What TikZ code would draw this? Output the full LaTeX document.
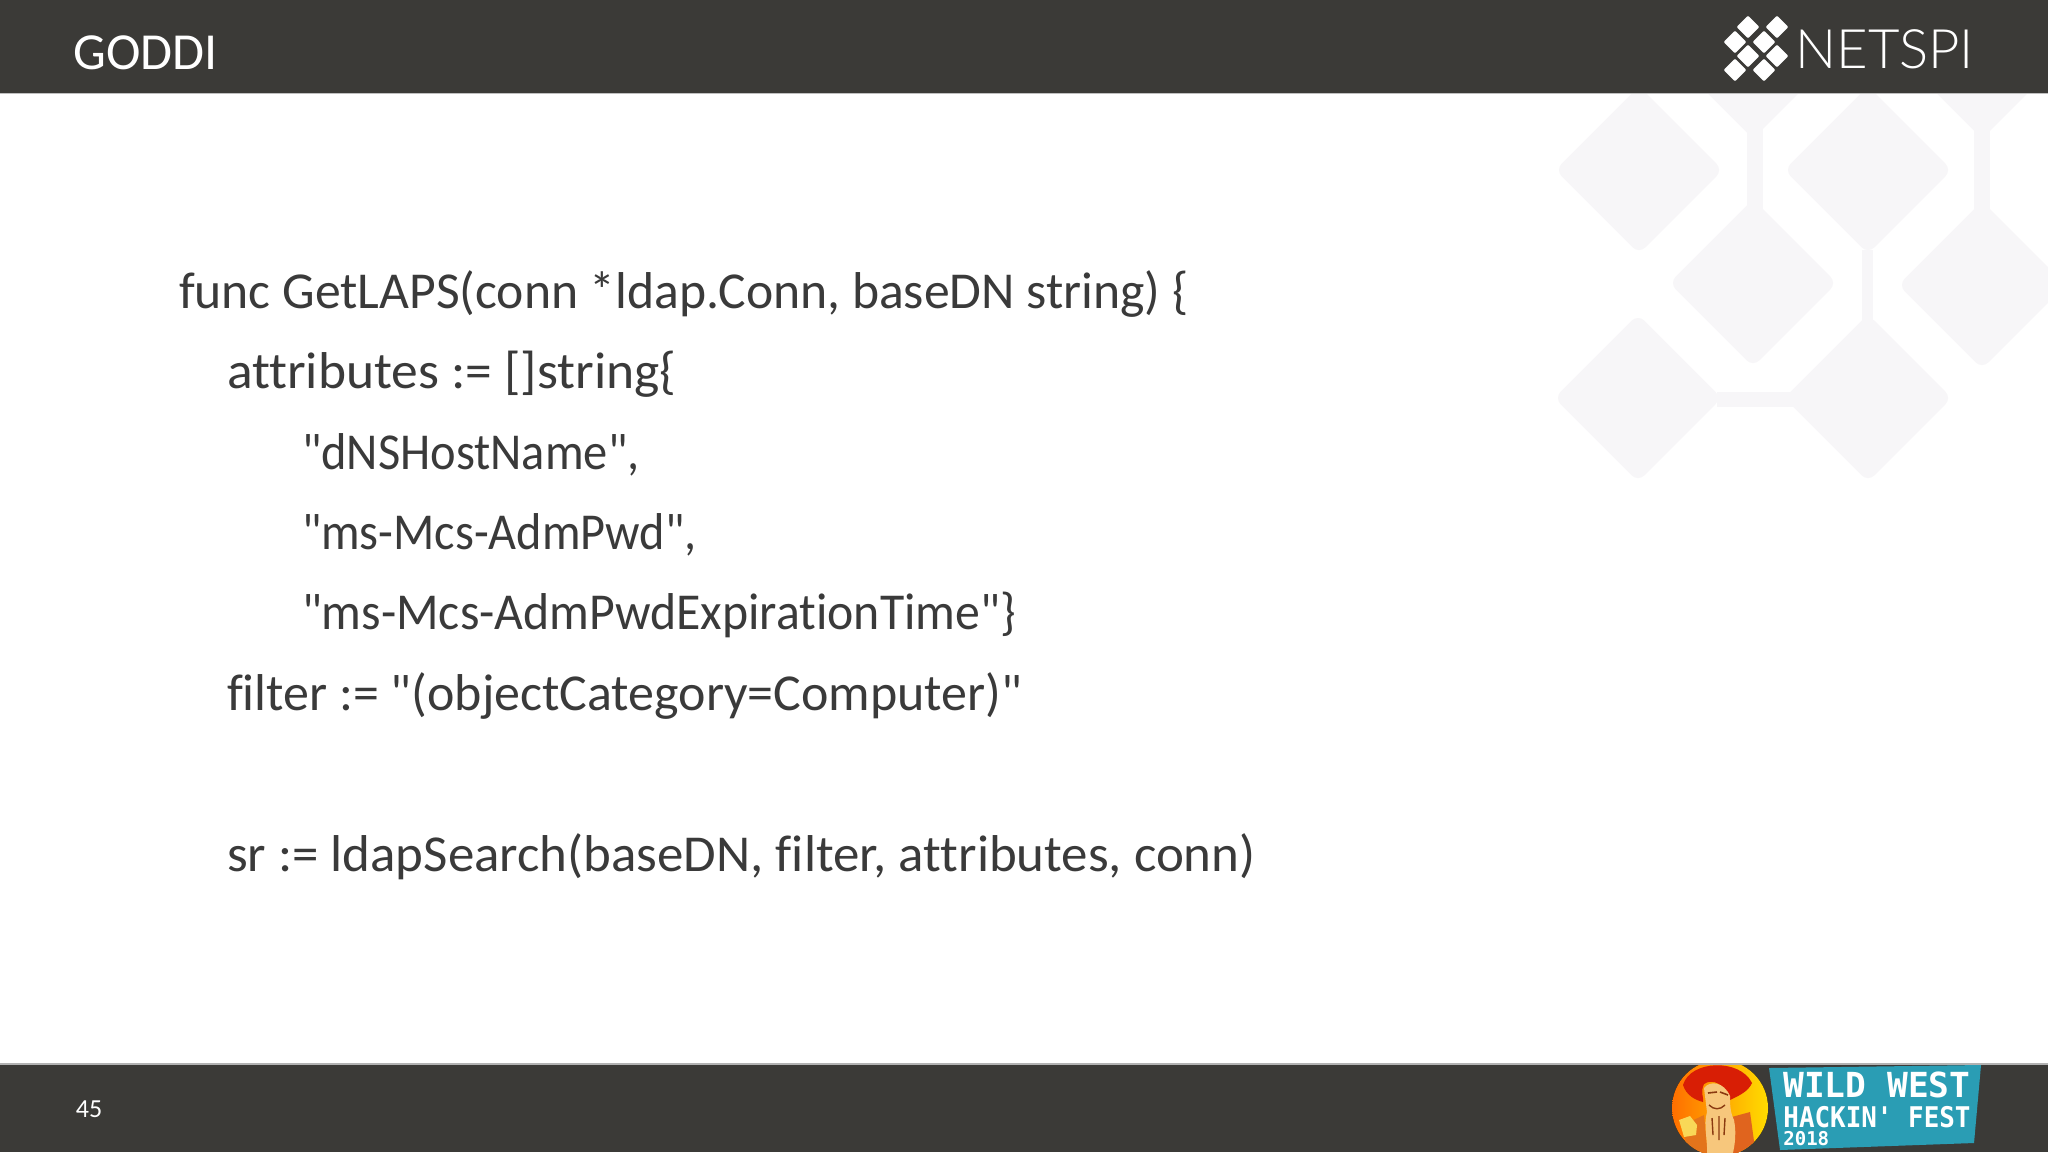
\documentclass[tikz,border=0pt]{standalone}
\usepackage{fontspec}
\setmainfont{Carlito}[Ligatures={TeXOff,CommonOff}]
\newfontfamily\logofont{Lato Light}
\newfontfamily\badgefont{DejaVu Sans Mono}
\definecolor{bar}{HTML}{3B3A37}
\definecolor{wm}{HTML}{F7F6F8}
\definecolor{code}{HTML}{3A3A3A}
\definecolor{teal}{HTML}{2A9DB4}
\definecolor{hat}{HTML}{D81E05}
\definecolor{skin}{HTML}{F7C77C}
\definecolor{lineb}{HTML}{8A3A10}
\definecolor{vest}{HTML}{E0641E}
\tikzset{
 px/.style={x=0.5pt,y=-0.5pt},
 codeline/.style={anchor=base west,inner sep=0,outer sep=0,text=code,font=\fontsize{25.9}{30}\selectfont},
 wmd/.style={fill=wm,draw=wm,line width=9pt,line join=round},
 lgd/.style={fill=white,draw=white,line width=1pt,line join=round},
 badge/.style={anchor=base west,inner sep=0,text=white},
}
\newcommand{\dmd}[4]{\path[#4] (#1-#3,#2) -- (#1,#2-#3) -- (#1+#3,#2) -- (#1,#2+#3) -- cycle;}
\newcommand{\xs}[2]{\scalebox{#1}[1]{#2}}
\begin{document}
\begin{tikzpicture}[px]
\useasboundingbox (0,0) rectangle (2048,1152);
\fill[white] (0,0) rectangle (2048,1152);
% watermark
\begin{scope}
\clip (0,94) rectangle (2048,1152);
\foreach \cx/\cy in {1639/170,1753/283,1868/170,1982/285,1638/398,1868/398,1753/55,1982/55}{
  \dmd{\cx}{\cy}{71}{wmd}
}
\fill[wm] (1747,120) rectangle (1763,210);
\fill[wm] (1862,250) rectangle (1873,320);
\fill[wm] (1974,120) rectangle (1990,210);
\fill[wm] (1717,392) rectangle (1793,407);
\end{scope}
% bars
\fill[bar] (0,0) rectangle (2048,92.5);
\fill[black!25] (0,92.5) rectangle (2048,94);
\fill[black!30] (0,1063) rectangle (2048,1065);
\fill[bar] (0,1065) rectangle (2048,1152);
\node[anchor=base west,inner sep=0,text=white,font=\fontsize{26}{30}\selectfont] (title) at (73,69) {GODDI};
\node[anchor=base west,inner sep=0,text=white,font=\fontsize{13}{15}\selectfont] (page) at (75.5,1117) {45};
% code
\node[codeline] (l1) at (179,308) {\xs{0.997}{func GetLAPS(conn *ldap.Conn, baseDN string) \{}};
\node[codeline] (l2) at (227,388.5) {\xs{1.033}{attributes := []string\{}};
\node[codeline] (l3) at (302,469) {\xs{0.935}{"dNSHostName",}};
\node[codeline] (l4) at (302,549.5) {\xs{0.932}{"ms-Mcs-AdmPwd",}};
\node[codeline] (l5) at (302,629.5) {\xs{0.961}{"ms-Mcs-AdmPwdExpirationTime"\}}};
\node[codeline] (l6) at (227,710) {\xs{1.003}{filter := "(objectCategory=Computer)"}};
\node[codeline] (l7) at (227,871) {\xs{1.022}{sr := ldapSearch(baseDN, filter, attributes, conn)}};
% NETSPI logo
\foreach \cx/\cy in {1748/27,1777/27,1735/42,1764/42,1748/56,1777/56,1735/70,1764/70}{
  \dmd{\cx}{\cy}{10}{lgd}
}
\node[anchor=base west,inner sep=0,text=white,font=\logofont\fontsize{27.2}{30}\selectfont] (logo) at (1795,68) {NETSPI};
% WWHF badge: portrait
\begin{scope}
\clip (1640,1065) rectangle (1800,1152);
\clip (1720,1108) circle (48);
\fill[left color=orange!85!red,right color=yellow!75!orange] (1670,1060) rectangle (1770,1156);
\fill[hat] (1683,1085) .. controls (1690,1060) and (1740,1058) .. (1752,1083)
  .. controls (1748,1092) and (1738,1096) .. (1730,1100)
  .. controls (1726,1084) and (1712,1078) .. (1704,1084)
  .. controls (1700,1092) and (1704,1098) .. (1703,1102)
  .. controls (1695,1100) and (1686,1095) .. (1683,1085) -- cycle;
\fill[vest] (1728,1118) -- (1750,1112) -- (1756,1156) -- (1728,1156) -- cycle;
\fill[vest!90!yellow] (1683,1125) -- (1704,1115) -- (1708,1156) -- (1688,1156) -- cycle;
\fill[skin] (1704,1088) .. controls (1710,1080) and (1724,1082) .. (1730,1096)
  .. controls (1730,1104) and (1730,1112) .. (1734,1120)
  .. controls (1737,1135) and (1734,1150) .. (1732,1156)
  -- (1707,1156) .. controls (1708,1140) and (1703,1125) .. (1707,1112) -- cycle;
\draw[lineb,line width=0.8pt] (1708,1093) -- (1717,1092) (1720,1092) -- (1728,1095);
\draw[lineb,line width=0.7pt] (1709,1105) .. controls (1714,1110) and (1720,1110) .. (1725,1105)
  (1712,1118) -- (1713,1135) (1719,1116) -- (1719,1140) (1725,1118) -- (1724,1135);
\fill[skin!70!yellow] (1679,1120) -- (1690,1116) -- (1697,1125) -- (1696,1135) -- (1684,1137) -- cycle;
\end{scope}
\fill[teal] (1769,1068) -- (1981,1065) -- (1974,1143) -- (1780,1150) -- cycle;
\node[badge,font=\badgefont\bfseries\fontsize{17.25}{20}\selectfont] (w1) at (1783,1097) {WILD WEST};
\node[badge,font=\badgefont\bfseries\fontsize{12.95}{16}\selectfont] (w2) at (1783,1127) {\scalebox{1}[1.1]{HACKIN' FEST}};
\node[badge,font=\badgefont\bfseries\fontsize{9.5}{11}\selectfont] (w3) at (1783,1145) {2018};
\end{tikzpicture}
\end{document}
